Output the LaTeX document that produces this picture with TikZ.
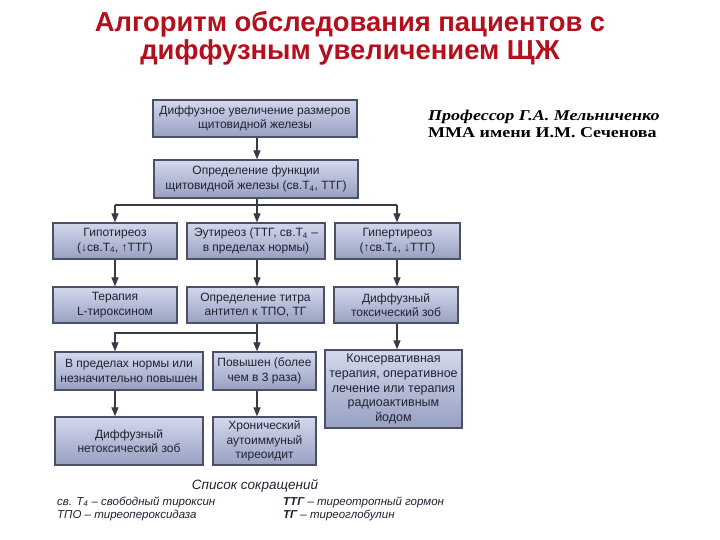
\documentclass[tikz,border=0pt]{standalone}
\usepackage{fontspec}
\setmainfont{Liberation Serif}
\setsansfont{Liberation Sans}
\newfontfamily\proffont[FakeStretch=1.2]{Liberation Serif}
\usetikzlibrary{arrows.meta}
\definecolor{titlered}{HTML}{B40F1C}
\definecolor{boxtop}{HTML}{D4D8EC}
\definecolor{boxbot}{HTML}{98A0C2}
\definecolor{boxline}{HTML}{4A5068}
\definecolor{boxtext}{HTML}{1E2232}
\definecolor{linegray}{HTML}{3A3A44}
\begin{document}
\begin{tikzpicture}[x=1pt,y=-1pt,
  box/.style={draw=boxline, line width=1.3pt, top color=boxtop, bottom color=boxbot,
    inner sep=1pt, align=center, text=boxtext,
    font=\sffamily\fontsize{12}{14.5}\selectfont},
  conn/.style={draw=linegray, line width=1.2pt},
  arr/.style={conn, -{Triangle[width=7pt,length=9pt]}},
  titletext/.style={anchor=base, text=titlered, font=\sffamily\bfseries\fontsize{27.4}{30}\selectfont},
  abbr/.style={anchor=base west, inner sep=0pt, text=boxtext, font=\sffamily\itshape\fontsize{11.5}{13}\selectfont}]
\useasboundingbox[fill=white] (0,0) rectangle (720,540);

% title and author
\node[titletext] (title1) at (350,32) {Алгоритм обследования пациентов с};
\node[titletext] (title2) at (350,60) {диффузным увеличением ЩЖ};
\node[anchor=base west, inner sep=0pt, font=\proffont\bfseries\itshape\fontsize{15}{17}\selectfont] (prof) at (428,120.5) {Профессор Г.А. Мельниченко};
\node[anchor=base west, inner sep=0pt, font=\proffont\bfseries\fontsize{15}{17}\selectfont] (mma) at (428,137.5) {ММА имени И.М. Сеченова};

% boxes
\node[box, minimum width=204pt, minimum height=37pt] (b1) at (255,118.5) {Диффузное увеличение размеров\\щитовидной железы};
\node[box, minimum width=204pt, minimum height=38pt] (b2) at (256,179) {Определение функции\\щитовидной железы (св.Т\textsubscript{4}, ТТГ)};

\node[box, minimum width=124pt, minimum height=36pt] (r3a) at (115,241) {Гипотиреоз\\(↓св.Т\textsubscript{4}, ↑ТТГ)};
\node[box, minimum width=138pt, minimum height=36pt] (r3b) at (256,241) {Эутиреоз (ТТГ, св.Т\textsubscript{4} –\\в пределах нормы)};
\node[box, minimum width=125pt, minimum height=36pt] (r3c) at (397.5,241) {Гипертиреоз\\(↑св.Т\textsubscript{4}, ↓ТТГ)};

\node[box, minimum width=124pt, minimum height=36pt] (r4a) at (115,305) {Терапия\\L-тироксином};
\node[box, minimum width=137pt, minimum height=36pt] (r4b) at (255.5,305) {Определение титра\\антител к ТПО, ТГ};
\node[box, minimum width=124pt, minimum height=36pt] (r4c) at (396,305) {Диффузный\\токсический зоб};

\node[box, minimum width=148pt, minimum height=38pt] (r5a) at (129,371) {В пределах нормы или\\незначительно повышен};
\node[box, minimum width=103pt, minimum height=38pt] (r5b) at (264.5,371) {Повышен (более\\чем в 3 раза)};
\node[box, minimum width=137pt, minimum height=78pt, font=\sffamily\fontsize{12.5}{14.6}\selectfont] (r5c) at (393.5,389) {Консервативная\\терапия, оперативное\\лечение или терапия\\радиоактивным\\йодом};

\node[box, minimum width=148pt, minimum height=48pt] (r6a) at (129,441) {Диффузный\\нетоксический зоб};
\node[box, minimum width=103pt, minimum height=48pt] (r6b) at (264.5,441) {Хронический\\аутоиммуный\\тиреоидит};

% connector guides
\coordinate (xl) at (115,0);
\coordinate (xm) at (257,0);
\coordinate (xr) at (397,0);
\coordinate (bus1) at (0,205);
\coordinate (bus2) at (0,333);

% connectors
\draw[arr] (b1.south -| xm) -- (b2.north -| xm);
\draw[arr] (b2.south -| xm) -- (r3b.north -| xm);
\draw[conn] (bus1 -| xl) -- (bus1 -| xr);
\draw[arr] (bus1 -| xl) -- (r3a.north -| xl);
\draw[arr] (bus1 -| xr) -- (r3c.north -| xr);

\draw[arr] (r3a.south -| xl) -- (r4a.north -| xl);
\draw[arr] (r3b.south -| xm) -- (r4b.north -| xm);
\draw[arr] (r3c.south -| xr) -- (r4c.north -| xr);

\draw[arr] (r4b.south -| xm) -- (r5b.north -| xm);
\draw[arr] (bus2 -| xm) -| (r5a.north -| xl);
\draw[arr] (r4c.south -| xr) -- (r5c.north -| xr);

\draw[arr] (r5a.south -| xl) -- (r6a.north -| xl);
\draw[arr] (r5b.south -| xm) -- (r6b.north -| xm);

% legend
\node[text=boxtext, font=\sffamily\itshape\fontsize{13.5}{15}\selectfont] (leg) at (255,486) {Список сокращений};
\node[abbr] (ab1) at (57,505) {св. Т\textsubscript{4} – свободный тироксин};
\node[abbr] (ab2) at (57,518) {ТПО – тиреопероксидаза};
\node[abbr] (ab3) at (283,505) {\textbf{ТТГ} – тиреотропный гормон};
\node[abbr] (ab4) at (283,518) {\textbf{ТГ} – тиреоглобулин};
\end{tikzpicture}
\end{document}
